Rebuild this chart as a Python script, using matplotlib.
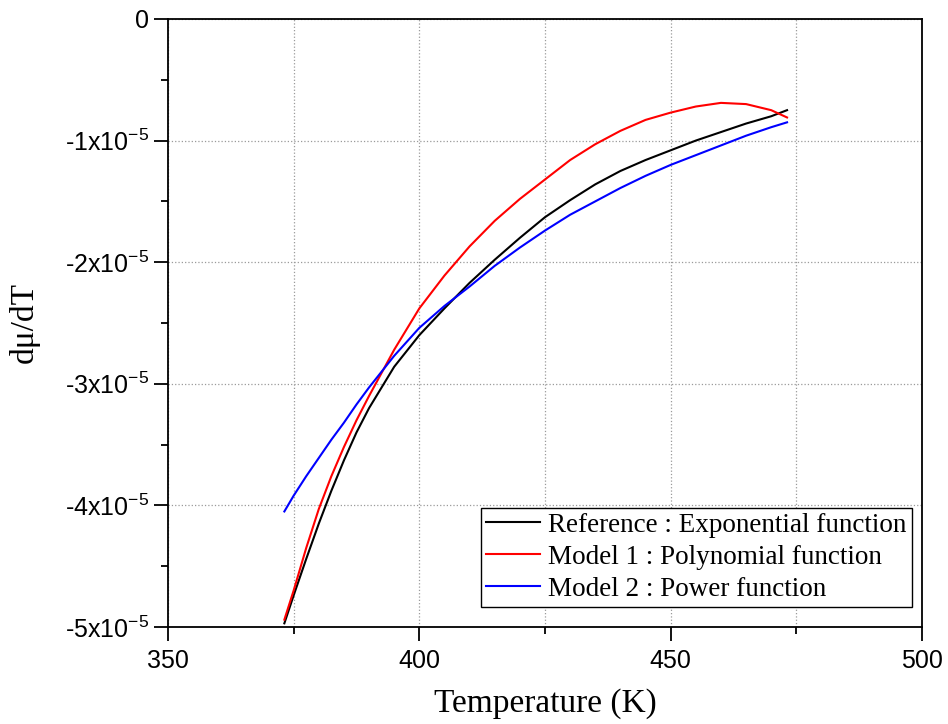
import matplotlib
matplotlib.use("Agg")
import matplotlib.pyplot as plt
from matplotlib.ticker import MultipleLocator, FuncFormatter
import numpy as np

# temperature (K) and dmu/dT values (units of 1e-5)
temperature = [373.15, 375, 377.5, 380, 382.5, 385, 387.5, 390, 395, 400, 405,
               410, 415, 420, 425, 430, 435, 440, 445, 450, 455, 460, 465, 470,
               473.15]
reference_exp = [-4.97, -4.74, -4.44, -4.15, -3.88, -3.63, -3.40, -3.20, -2.86,
                 -2.60, -2.38, -2.17, -1.98, -1.80, -1.63, -1.49, -1.36, -1.25,
                 -1.16, -1.08, -1.00, -0.93, -0.86, -0.80, -0.75]
model1_poly = [-4.94, -4.70, -4.35, -4.03, -3.76, -3.52, -3.30, -3.10, -2.72,
               -2.38, -2.11, -1.87, -1.66, -1.48, -1.32, -1.16, -1.03, -0.92,
               -0.83, -0.77, -0.72, -0.69, -0.70, -0.75, -0.81]
model2_power = [-4.05, -3.92, -3.76, -3.61, -3.46, -3.32, -3.17, -3.03, -2.77,
                -2.54, -2.36, -2.20, -2.03, -1.88, -1.74, -1.61, -1.50, -1.39,
                -1.29, -1.20, -1.12, -1.04, -0.96, -0.89, -0.85]

series = [
    ("Reference : Exponential function", reference_exp, "black"),
    ("Model 1 : Polynomial function", model1_poly, "red"),
    ("Model 2 : Power function", model2_power, "blue"),
]

plt.rcParams["mathtext.fontset"] = "custom"
plt.rcParams["mathtext.rm"] = "Liberation Sans"
plt.rcParams["mathtext.default"] = "regular"

fig = plt.figure(figsize=(9.48, 7.24), dpi=100)
ax = fig.add_axes([0.1772, 0.134, 0.7954, 0.8398])

for label, vals, color in series:
    ax.plot(temperature, np.array(vals) * 1e-5, color=color, lw=1.5, label=label, zorder=3)

ax.set_xlim(350, 500)
ax.set_ylim(-5e-5, 0)
ax.xaxis.set_major_locator(MultipleLocator(50))
ax.xaxis.set_minor_locator(MultipleLocator(25))
ax.yaxis.set_major_locator(MultipleLocator(1e-5))
ax.yaxis.set_minor_locator(MultipleLocator(0.5e-5))


def yfmt(v, pos):
    k = int(round(-v / 1e-5))
    if k == 0:
        return "0"
    return f"-{k}x10$^{{-5}}$"


ax.yaxis.set_major_formatter(FuncFormatter(yfmt))

ax.grid(True, which="major", axis="y", ls=":", color="#9a9a9a", lw=0.9)
ax.grid(True, which="both", axis="x", ls=":", color="#9a9a9a", lw=0.9)
ax.set_axisbelow(True)

ax.tick_params(which="both", direction="out", width=1.3, labelsize=18,
               top=False, right=False)
ax.tick_params(which="major", length=10)
ax.tick_params(which="minor", length=5)
for lab in ax.get_xticklabels() + ax.get_yticklabels():
    lab.set_fontfamily("Liberation Sans")
ax.tick_params(axis="x", pad=6)
for sp in ax.spines.values():
    sp.set_linewidth(1.3)

ax.set_xlabel("Temperature (K)", fontsize=24, family="Liberation Serif", labelpad=11)
ax.set_ylabel("dμ/dT", fontsize=24, family="Liberation Serif", labelpad=18)

leg = ax.legend(loc="lower right", bbox_to_anchor=(0.987, 0.033), borderaxespad=0,
                prop={"family": "Liberation Serif", "size": 19.5}, fancybox=False,
                framealpha=1, edgecolor="black", handlelength=2.0, handletextpad=0.3,
                labelspacing=0.25, borderpad=0.2)
leg.get_frame().set_linewidth(1.0)

fig.savefig("out.png", dpi=100)
